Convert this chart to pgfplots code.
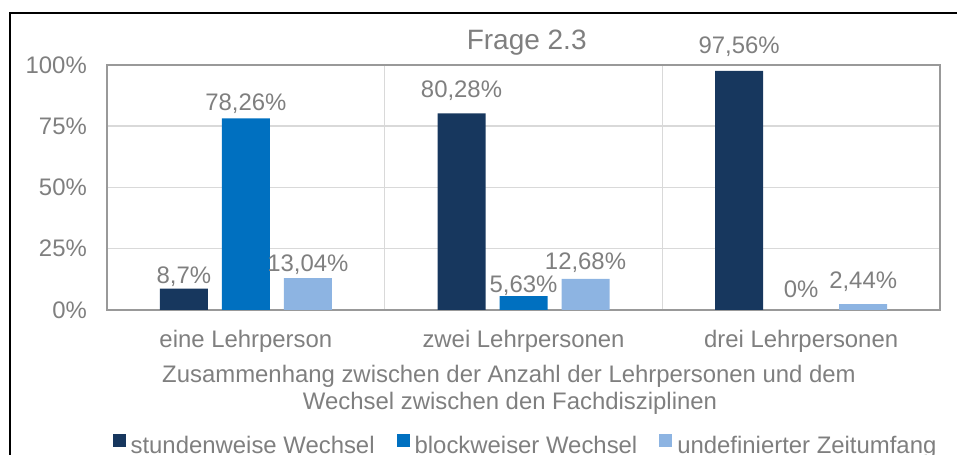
\documentclass[border=0pt]{standalone}
\usepackage{fontspec}
\setmainfont{Liberation Sans}
\usepackage{pgfplots}
\usepackage{pgfplotstable}
\pgfplotsset{compat=1.18}
\definecolor{cA}{HTML}{17375E}
\definecolor{cB}{HTML}{0070C0}
\definecolor{cC}{HTML}{8DB4E2}
\definecolor{txt}{HTML}{7F7F7F}
\definecolor{gridc}{HTML}{D9D9D9}
\definecolor{framec}{HTML}{999999}
\newcommand\lf{\fontsize{23.9bp}{28bp}\selectfont}

\pgfplotstableread{
x y off
0 8.7 5.4
1 80.28 15.6
2 97.56 17.7
}\dataA
\pgfplotstableread{
x y off
0 78.26 8
1 5.63 4
2 0 13
}\dataB
\pgfplotstableread{
x y off
0 13.04 6.4
1 12.68 9.3
2 2.44 16
}\dataC

\begin{document}
\begin{tikzpicture}
\begin{axis}[
 at={(107bp,145bp)}, anchor=south west, scale only axis, width=833bp, height=245bp,
 xmin=-0.5, xmax=2.5, ymin=0, ymax=100,
 ybar=14bp, bar width=48bp,
 xtick={0,1,2}, xticklabels={eine Lehrperson, zwei Lehrpersonen, drei Lehrpersonen},
 minor xtick={0.5,1.5}, xminorgrids=true,
 ytick={0,25,50,75,100}, yticklabels={0\%,25\%,50\%,75\%,100\%}, ymajorgrids=true,
 grid style={draw=gridc, line width=1.5bp},
 minor grid style={draw=gridc, line width=1.5bp},
 major grid style={draw=gridc, line width=1.5bp},
 axis line style={draw=framec, line width=1.5bp},
 major tick length=0pt, minor tick length=0pt,
 tick style={draw=none},
 x tick label style={font=\lf, text=txt, anchor=base, inner sep=0pt, yshift=-37.7bp},
 y tick label style={font=\lf, text=txt, anchor=east, inner sep=0pt, xshift=-20bp},
 /pgf/number format/assume math mode=true,
 nodes near coords={\pgfmathprintnumber[use comma]{\pgfplotspointmeta}\%},
 visualization depends on={\thisrow{off}\as\myoff},
 every node near coord/.append style={font=\lf, text=txt, anchor=base, inner sep=0pt, yshift=\myoff bp},
 legend columns=3,
 legend style={draw=none, fill=none, at={(0.5012,-0.507)}, anchor=north, font=\lf, text=txt, inner sep=0pt, nodes={inner sep=0pt},
   /tikz/every odd column/.append style={column sep=5bp},
   /tikz/every even column/.append style={column sep=22bp}},
 legend image code/.code={\fill[#1] (0bp,-2bp) rectangle (13bp,11bp);},
]
\addplot[fill=cA, draw=none] table[x=x,y=y]{\dataA};
\addplot[fill=cB, draw=none] table[x=x,y=y]{\dataB};
\addplot[fill=cC, draw=none] table[x=x,y=y]{\dataC};
\legend{stundenweise Wechsel, blockweiser Wechsel, undefinierter Zeitumfang}
\end{axis}
\node[font=\fontsize{28bp}{34bp}\selectfont, text=txt, anchor=base] at (526.7bp,405.7bp) {Frage 2.3};
\node[font=\lf, text=txt, anchor=base] at (509bp,72bp) {Zusammenhang zwischen der Anzahl der Lehrpersonen und dem};
\node[font=\lf, text=txt, anchor=base] at (510bp,45bp) {Wechsel zwischen den Fachdisziplinen};
\draw[black, line width=2bp] (9.7bp,-10bp) -- (9.7bp,442bp) -- (980bp,442bp);
\pgfresetboundingbox
\path[use as bounding box] (0,0) rectangle (957bp,455bp);
\end{tikzpicture}
\end{document}
